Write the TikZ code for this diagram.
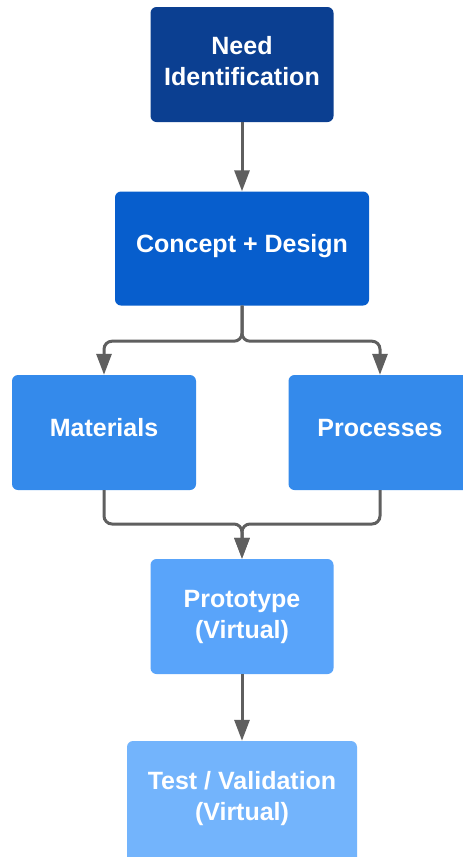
\documentclass[tikz,border=0pt]{standalone}
\usepackage{fontspec}
\setmainfont{Liberation Sans}
\usetikzlibrary{arrows.meta}
\definecolor{cneed}{HTML}{0B3F91}
\definecolor{cconcept}{HTML}{075ECD}
\definecolor{cmat}{HTML}{348AEB}
\definecolor{cproto}{HTML}{59A4FA}
\definecolor{ctest}{HTML}{73B4FC}
\definecolor{cline}{HTML}{5F5F5F}
\tikzset{
  box/.style={draw=none, rounded corners=6pt, inner sep=0pt, minimum height=115pt},
  lbl/.style={text=white, font=\fontsize{25}{31}\selectfont\bfseries, align=center, inner sep=0pt, anchor=base},
  conn/.style={draw=cline, line width=3pt, rounded corners=8pt, -{Triangle[length=21pt,width=15pt]}}
}
\begin{document}
\begin{tikzpicture}[x=1pt,y=-1pt]
\useasboundingbox (0,0) rectangle (463,857);
\clip (0,0) rectangle (463,857);
\fill[white] (0,0) rectangle (463,857);
% boxes
\node[box, fill=cneed, minimum width=183pt] (need) at (242,64.5) {};
\node[box, fill=cconcept, minimum width=254pt, minimum height=114pt] (concept) at (242,248.5) {};
\node[box, fill=cmat, minimum width=184pt] (mat) at (104,432.5) {};
\node[box, fill=cmat, minimum width=183pt] (proc) at (380,432.5) {};
\node[box, fill=cproto, minimum width=183pt] (proto) at (242,616.5) {};
\node[box, fill=ctest, minimum width=230pt, minimum height=130pt] (test) at (242,806) {};
% labels
\node[lbl] (needl) at (242,85) {Need\\Identification};
\node[lbl] (conceptl) at (242,252.7) {Concept + Design};
\node[lbl] (matl) at (104,436.7) {Materials};
\node[lbl] (procl) at (380,436.7) {Processes};
\node[lbl] (protol) at (242,638.3) {Prototype\\(Virtual)};
\node[lbl] (testl) at (242,820.5) {Test / Validation\\(Virtual)};
% connectors
\coordinate (merge) at (242,524);
\draw[conn] (need.south) -- (concept.north);
\draw[conn] (concept.south) -- ++(0,35.5) -| (mat.north);
\draw[conn] (concept.south) -- ++(0,35.5) -| (proc.north);
\draw[conn] (mat.south) |- (merge) -- (proto.north);
\draw[conn] (proc.south) |- (merge) -- (proto.north);
\draw[conn] (proto.south) -- (test.north);
\end{tikzpicture}
\end{document}
